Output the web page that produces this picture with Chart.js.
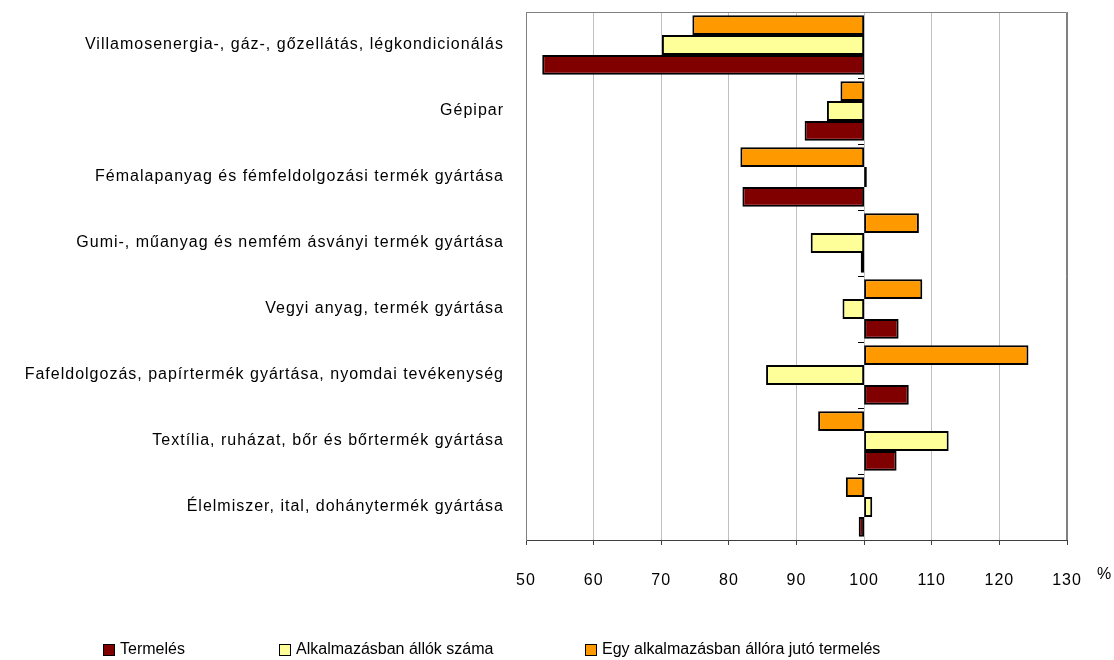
<!DOCTYPE html>
<html>
<head>
<meta charset="utf-8">
<script src="https://cdn.jsdelivr.net/npm/chart.js@4/dist/chart.umd.min.js"></script>
<style>
  html, body { margin: 0; padding: 0; background: #fff; }
  canvas { display: block; }
</style>
</head>
<body>
<canvas id="myChart" width="1114" height="660"></canvas>
<script>
// kategóriák fentről lefelé
const agazatok = [
    'Villamosenergia-, gáz-, gőzellátás, légkondicionálás',
    'Gépipar',
    'Fémalapanyag és fémfeldolgozási termék gyártása',
    'Gumi-, műanyag és nemfém ásványi termék gyártása',
    'Vegyi anyag, termék gyártása',
    'Fafeldolgozás, papírtermék gyártása, nyomdai tevékenység',
    'Textília, ruházat, bőr és bőrtermék gyártása',
    'Élelmiszer, ital, dohánytermék gyártása'
]
// %, előző év = 100
const termeles = [52.4, 91.2, 82.0, 99.5, 105.1, 106.6, 104.8, 99.2]
const letszam = [70.1, 94.5, 100.4, 92.1, 96.8, 85.5, 112.5, 101.2]
const egyFore = [74.6, 96.5, 81.7, 108.1, 108.6, 124.3, 93.2, 97.3]
const xTicks = [50, 60, 70, 80, 90, 100, 110, 120, 130]
const bazis = 100

const betu = "'Liberation Sans', Arial, sans-serif"

function sav(values) {
    return values.map(v => [bazis, v])
}

const keret = {
    id: 'keret',
    beforeDraw(chart) {
        chart.ctx.letterSpacing = '1px'
    },
    beforeDatasetsDraw(chart) {
        const { ctx, chartArea: a } = chart
        ctx.save()
        ctx.strokeStyle = '#808080'
        ctx.lineWidth = 1
        ctx.beginPath()
        ctx.moveTo(Math.round(a.left) + 0.5, a.bottom)
        ctx.lineTo(Math.round(a.left) + 0.5, Math.round(a.top) + 0.5)
        ctx.lineTo(Math.round(a.right) - 0.5, Math.round(a.top) + 0.5)
        ctx.lineTo(Math.round(a.right) - 0.5, a.bottom)
        ctx.stroke()
        ctx.restore()
    },
    afterDraw(chart) {
        const { ctx, chartArea: a } = chart
        ctx.letterSpacing = '0px'
        ctx.save()
        ctx.fillStyle = '#000'
        ctx.font = '16px ' + betu
        ctx.textBaseline = 'middle'
        ctx.textAlign = 'left'
        ctx.fillText('%', a.right + 30, a.bottom + 35)
        // jelmagyarázat
        const xs = [103, 279, 585]
        const ds = chart.data.datasets.slice().reverse()
        ds.forEach((d, i) => {
            const x = xs[i]
            const y = 650
            ctx.fillStyle = d.backgroundColor
            ctx.fillRect(x, y - 6, 11, 11)
            ctx.strokeStyle = '#000'
            ctx.lineWidth = 1
            ctx.strokeRect(x + 0.5, y - 5.5, 11, 11)
            ctx.fillStyle = '#000'
            ctx.fillText(d.label, x + 17, y)
        })
        ctx.restore()
    }
}

const ctx1 = document.getElementById('myChart').getContext('2d')
const myChart = new Chart(ctx1, {
    type: 'bar',
    data: {
        labels: agazatok,
        datasets: [{
            label: 'Egy alkalmazásban állóra jutó termelés',
            data: sav(egyFore),
            backgroundColor: '#FF9900'
        }, {
            label: 'Alkalmazásban állók száma',
            data: sav(letszam),
            backgroundColor: '#FFFF99'
        }, {
            label: 'Termelés',
            data: sav(termeles),
            backgroundColor: '#800000'
        }]
    },
    options: {
        indexAxis: 'y',
        responsive: false,
        animation: false,
        devicePixelRatio: 1,
        layout: {
            padding: { top: 12, right: 47, bottom: 0, left: 0 }
        },
        datasets: {
            bar: {
                borderColor: '#000',
                borderWidth: 2,
                borderSkipped: false,
                categoryPercentage: 0.9,
                barPercentage: 1
            }
        },
        plugins: {
            legend: { display: false },
            tooltip: { enabled: false }
        },
        scales: {
            x: {
                type: 'linear',
                min: 50,
                max: 130,
                afterBuildTicks: s => { s.ticks = xTicks.map(v => ({ value: v })) },
                afterFit: s => { s.height = 120 },
                ticks: {
                    color: '#000',
                    font: { size: 16, family: betu },
                    padding: 26
                },
                grid: {
                    color: c => (c.tick && (c.tick.value === 50 || c.tick.value === 130)) ? '#808080' : '#c0c0c0',
                    tickColor: '#404040',
                    tickLength: 5
                },
                border: { color: '#404040' }
            },
            y: {
                type: 'category',
                afterFit: s => { s.width = 526; s.paddingTop = 0; s.paddingBottom = 0 },
                ticks: {
                    color: '#000',
                    font: { size: 16, family: betu },
                    padding: 14
                },
                grid: { display: false },
                border: { color: '#808080' }
            },
            y2: {
                type: 'category',
                labels: agazatok,
                position: { x: bazis },
                offset: true,
                afterFit: s => { s.paddingTop = 0; s.paddingBottom = 0 },
                ticks: { display: false },
                grid: {
                    offset: true,
                    drawOnChartArea: false,
                    drawTicks: true,
                    tickLength: 6,
                    color: '#000'
                },
                border: { display: false }
            }
        }
    },
    plugins: [keret]
})
</script>
</body>
</html>
